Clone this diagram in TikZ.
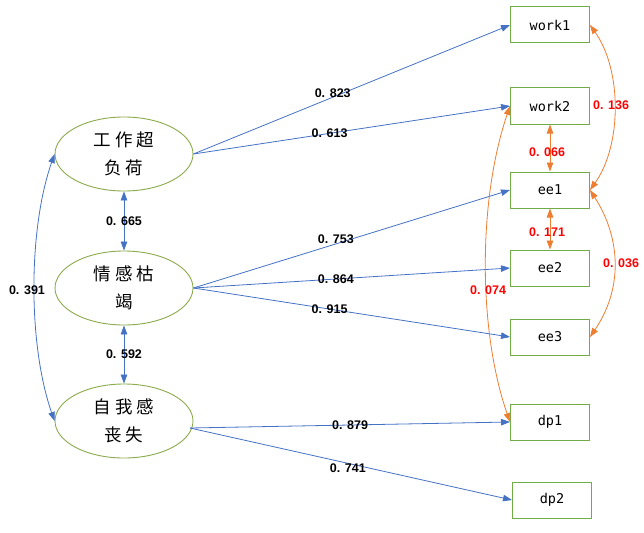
\documentclass[tikz,border=0pt]{standalone}
\usepackage{fontspec}
\setmainfont{Liberation Sans}
\newfontfamily\cjk{Noto Sans CJK SC}
\newfontfamily\boxfont{DejaVu Sans Mono}
\usetikzlibrary{shapes.geometric,arrows.meta}
\definecolor{blu}{HTML}{4472C4}
\definecolor{org}{HTML}{ED7D31}
\definecolor{grn}{HTML}{70AD47}
\definecolor{grnE}{HTML}{8BAA4B}
\definecolor{redl}{HTML}{FF0000}
\newcommand\gp{\hspace{4pt}}
\begin{document}
\begin{tikzpicture}[x=1pt,y=-1pt,
 latent/.style={ellipse,draw=grnE,line width=0.9pt,minimum width=138pt,minimum height=74pt,inner sep=0pt,align=center,font=\cjk\fontsize{17.5}{28}\selectfont},
 obs/.style={rectangle,draw=grn,line width=1pt,minimum width=79pt,minimum height=36pt,inner sep=0pt,font=\boxfont\fontsize{13.5}{15}\selectfont},
 barr/.style={draw=blu,line width=0.8pt,-{Triangle[length=9pt,width=6.5pt]}},
 bdbl/.style={draw=blu,line width=0.8pt,{Triangle[length=9pt,width=6.5pt]}-{Triangle[length=9pt,width=6.5pt]}},
 odbl/.style={draw=org,line width=0.8pt,{Triangle[length=9pt,width=6.5pt]}-{Triangle[length=9pt,width=6.5pt]}},
 coef/.style={font=\bfseries\fontsize{12.5}{14}\selectfont,text=black,inner sep=0pt},
 rcoef/.style={coef,text=redl}]
\useasboundingbox (0,0) rectangle (644,532);

% latent variables
\node[latent] (L1) at (124,154) {工\gp{}作\gp{}超\\负\gp{}荷};
\node[latent] (L2) at (124,288) {情\gp{}感\gp{}枯\\竭};
\node[latent] (L3) at (124,421) {自\gp{}我\gp{}感\\丧\gp{}失};
\coordinate (L3o) at (190,428);

% observed variables
\node[obs] (w1) at (550,25) {work1};
\node[obs] (w2) at (550,106) {work2};
\node[obs] (ee1) at (550,190) {ee1};
\node[obs] (ee2) at (550,268) {ee2};
\node[obs] (ee3) at (550,337) {ee3};
\node[obs] (dp1) at (550,422) {dp1};
\node[obs] (dp2) at (552,500) {dp2};

% loadings
\draw[barr] (L1.east) -- node[coef,pos=0.44,yshift=4pt]{0. 823} (w1.west);
\draw[barr] (L1.east) -- node[coef,pos=0.43]{0. 613} (w2.west);
\draw[barr] (L2.east) -- node[coef,pos=0.45,yshift=5pt]{0. 753} (ee1.west);
\draw[barr] (L2.east) -- node[coef,pos=0.45]{0. 864} (ee2.west);
\draw[barr] (L2.east) -- node[coef,pos=0.43]{0. 915} (ee3.west);
\draw[barr] (L3o) -- node[coef,pos=0.5]{0. 879} (dp1.west);
\draw[barr] (L3o) -- node[coef,pos=0.49,yshift=-5pt]{0. 741} (dp2.west);

% latent correlations
\draw[bdbl] (L1.south) -- node[coef]{0. 665} (L2.north);
\draw[bdbl] (L2.south) -- node[coef]{0. 592} (L3.north);
\draw[bdbl] (L1.west) .. controls (28,230) and (28,345) .. (L3.west);
\node[coef] (c391) at (27,290) {0. 391};

% residual correlations
\draw[odbl] (w1.east) .. controls (622,70) and (622,145) .. (ee1.east);
\draw[odbl] (ee1.east) .. controls (622,240) and (622,290) .. (ee3.east);
\draw[odbl] (w2.west) .. controls (478,200) and (478,330) .. (dp1.west);
\draw[odbl] (w2.south) -- (ee1.north);
\draw[odbl] (ee1.south) -- (ee2.north);
\node[rcoef] (c136) at (611,105) {0. 136};
\node[rcoef] (c066) at (547,152) {0. 066};
\node[rcoef] (c171) at (547,232) {0. 171};
\node[rcoef] (c036) at (621,263) {0. 036};
\node[rcoef] (c074) at (488,290) {0. 074};
\end{tikzpicture}
\end{document}
